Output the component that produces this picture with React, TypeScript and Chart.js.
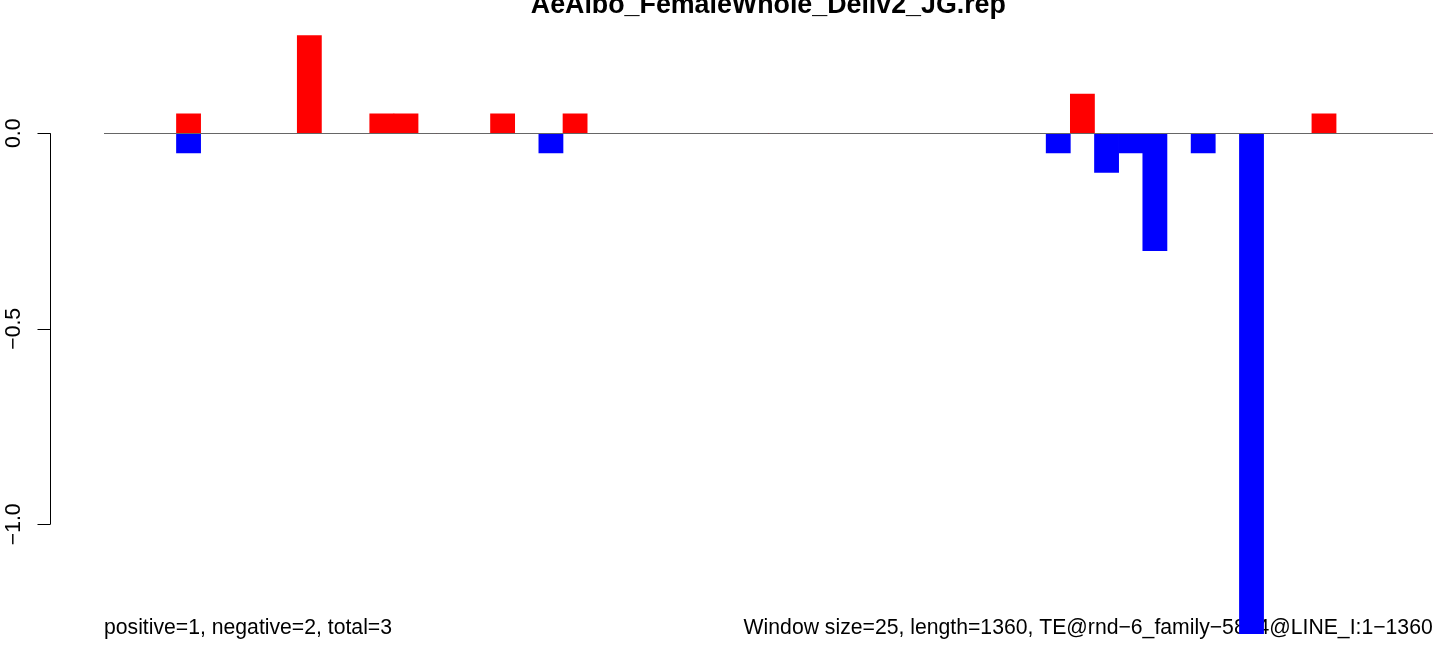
import React, { useEffect, useRef } from "react";
import { Chart, registerables } from "chart.js";

Chart.register(...registerables);

const TITLE = "AeAlbo_FemaleWhole_Deliv2_JG.rep";
const LEFT_NOTE = "positive=1, negative=2, total=3";
const RIGHT_NOTE = "Window size=25, length=1360, TE@rnd\u22126_family\u22125864@LINE_I:1\u22121360";

const WINDOW_SIZE = 25;
const SEQ_LENGTH = 1360;
const windowStarts: string[] = Array.from(
  { length: Math.ceil(SEQ_LENGTH / WINDOW_SIZE) },
  (_, i) => String(i * WINDOW_SIZE + 1)
);

const positiveValues: number[] = [
  0, 0, 0, 0.05, 0, 0, 0, 0, 0.25, 0,
  0, 0.05, 0.05, 0, 0, 0, 0.05, 0, 0, 0.05,
  0, 0, 0, 0, 0, 0, 0, 0, 0, 0,
  0, 0, 0, 0, 0, 0, 0, 0, 0, 0,
  0.1, 0, 0, 0, 0, 0, 0, 0, 0, 0,
  0.05, 0, 0, 0, 0,
];

const negativeValues: number[] = [
  0, 0, 0, -0.05, 0, 0, 0, 0, 0, 0,
  0, 0, 0, 0, 0, 0, 0, 0, -0.05, 0,
  0, 0, 0, 0, 0, 0, 0, 0, 0, 0,
  0, 0, 0, 0, 0, 0, 0, 0, 0, -0.05,
  0, -0.1, -0.05, -0.3, 0, -0.05, 0, -1.28, 0, 0,
  0, 0, 0, 0, 0,
];

const yTickValues: number[] = [0, -0.5, -1.0];
const yTickLabels: string[] = ["0.0", "\u22120.5", "\u22121.0"];

const FONT = "'Liberation Sans', Arial, Helvetica, sans-serif";

const decorPlugin = {
  id: "rDecor",
  beforeDatasetsDraw(chart: any) {
    const ctx = chart.ctx;
    const area = chart.chartArea;
    ctx.save();
    ctx.fillStyle = "#000";
    ctx.font = `21.2px ${FONT}`;
    ctx.textBaseline = "alphabetic";
    ctx.textAlign = "left";
    ctx.fillText(LEFT_NOTE, area.left, 634);
    ctx.textAlign = "right";
    ctx.fillText(RIGHT_NOTE, area.right, 634);
    ctx.restore();
  },
  afterDatasetsDraw(chart: any) {
    const ctx = chart.ctx;
    const area = chart.chartArea;
    const y = chart.scales.y;
    ctx.save();
    // zero line
    const y0 = Math.round(y.getPixelForValue(0)) + 0.5;
    ctx.strokeStyle = "#666666";
    ctx.lineWidth = 1;
    ctx.beginPath();
    ctx.moveTo(area.left, y0);
    ctx.lineTo(area.right, y0);
    ctx.stroke();

    // y axis
    const axisX = 50.5;
    const top = y.getPixelForValue(yTickValues[0]);
    const bottom = y.getPixelForValue(yTickValues[yTickValues.length - 1]);
    ctx.strokeStyle = "#000";
    ctx.beginPath();
    ctx.moveTo(axisX, top);
    ctx.lineTo(axisX, bottom);
    yTickValues.forEach((v) => {
      const py = Math.round(y.getPixelForValue(v)) + 0.5;
      ctx.moveTo(axisX, py);
      ctx.lineTo(axisX - 13, py);
    });
    ctx.stroke();

    ctx.fillStyle = "#000";
    ctx.font = `21.2px ${FONT}`;
    ctx.textAlign = "center";
    ctx.textBaseline = "middle";
    yTickValues.forEach((v, i) => {
      const py = y.getPixelForValue(v);
      ctx.save();
      ctx.translate(14, py);
      ctx.rotate(-Math.PI / 2);
      ctx.fillText(yTickLabels[i], 0, 0);
      ctx.restore();
    });

    // title
    ctx.font = `bold 26.8px ${FONT}`;
    ctx.textAlign = "center";
    ctx.textBaseline = "alphabetic";
    ctx.fillText(TITLE, (area.left + area.right) / 2, 13);
    ctx.restore();
  },
};

export default function App() {
  const canvasRef = useRef<HTMLCanvasElement | null>(null);

  useEffect(() => {
    document.body.style.margin = "0";
    const canvas = canvasRef.current;
    if (!canvas) return;
    const chart = new Chart(canvas, {
      type: "bar",
      data: {
        labels: windowStarts,
        datasets: [
          {
            label: "positive",
            data: positiveValues,
            backgroundColor: "#FF0000",
            borderWidth: 0,
            barPercentage: 1,
            categoryPercentage: 1,
          },
          {
            label: "negative",
            data: negativeValues,
            backgroundColor: "#0000FF",
            borderWidth: 0,
            barPercentage: 1,
            categoryPercentage: 1,
          },
        ],
      },
      options: {
        responsive: false,
        animation: false,
        maintainAspectRatio: false,
        layout: { padding: { left: 104, right: 11.3, top: 0, bottom: 0 } },
        plugins: {
          legend: { display: false },
          tooltip: { enabled: false },
          title: { display: false },
        },
        scales: {
          x: { display: false, stacked: true, offset: true },
          y: { display: false, stacked: false, min: -1.3368, max: 0.3409 },
        },
      },
      plugins: [decorPlugin],
    });
    return () => chart.destroy();
  }, []);

  return (
    <div style={{ width: 1444, height: 656 }}>
      <canvas ref={canvasRef} width={1444} height={656} style={{ display: "block" }} />
    </div>
  );
}
